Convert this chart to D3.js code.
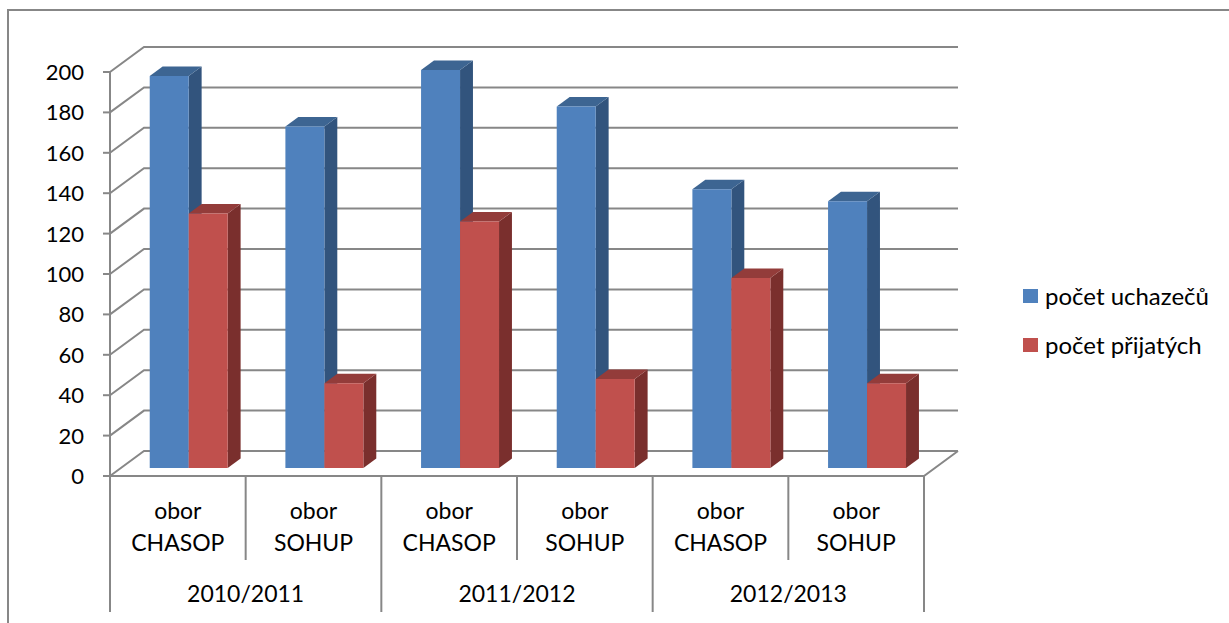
<!DOCTYPE html>
<html>
<head>
<meta charset="utf-8">
<script src="https://cdn.jsdelivr.net/npm/d3@7"></script>
<style>
  html, body { margin: 0; padding: 0; background: #fff; }
  svg { display: block; font-family: Lato, "Open Sans", sans-serif; }
</style>
</head>
<body>
<svg id="chart" width="1229" height="623"></svg>
<script>
// School years and study programmes (two-level category axis)
const years = ["2010/2011", "2011/2012", "2012/2013"];
const programmes = ["obor CHASOP", "obor SOHUP"];
// Values per category, in order: year × programme
const applicants = [194, 169, 197, 179, 138, 132];   // počet uchazečů
const admitted   = [126, 42, 122, 44, 94, 42];      // počet přijatých
const seriesNames = ["počet uchazečů", "počet přijatých"];
const yTicks = [0, 20, 40, 60, 80, 100, 120, 140, 160, 180, 200];

const categories = [];
years.forEach(y => programmes.forEach(p => categories.push(y + "|" + p)));
const series = [applicants, admitted];

const svg = d3.select("#chart");
const grid = "#878787";
const palette = [
  { front: "#4f81bd", side: "#32547d", top: "#3d6592" },
  { front: "#c0504d", side: "#7a2f2d", top: "#933c3a" }
];

// Oblique 3D frame: front plane and depth vector
const x0 = 110, x1 = 924;
const depthX = 34, depthY = -25;
const y = d3.scaleLinear().domain([0, 200]).range([476, 72]);
const x = d3.scaleBand().domain(categories).range([x0, x1]).padding(0);
const xs = d3.scaleBand().domain([0, 1]).range([0, x.bandwidth()]).paddingInner(0).paddingOuter(0.74);
const proj = (px, v, d) => [px + d * depthX, y(v) + d * depthY];

// Outer chart border (right and bottom sides run past the canvas)
svg.append("rect")
  .attr("x", 8).attr("y", 10).attr("width", 1240).attr("height", 640)
  .attr("fill", "none").attr("stroke", grid).attr("stroke-width", 2);

const line = d3.line();
const g = svg.append("g");

// Side-wall and back-wall gridlines
yTicks.forEach(t => {
  g.append("path").attr("d", line([proj(x0, t, 0), proj(x0, t, 1), proj(x1, t, 1)]))
    .attr("fill", "none").attr("stroke", grid).attr("stroke-width", 2);
  g.append("line")
    .attr("x1", x0 - 7).attr("x2", x0)
    .attr("y1", y(t)).attr("y2", y(t))
    .attr("stroke", grid).attr("stroke-width", 2);
});

// Floor edges
g.append("path").attr("d", line([proj(x0, 0, 0), proj(x1, 0, 0), proj(x1, 0, 1)]))
  .attr("fill", "none").attr("stroke", grid).attr("stroke-width", 2);
// Value axis line
g.append("line").attr("x1", x0).attr("x2", x0).attr("y1", y(200)).attr("y2", y(0))
  .attr("stroke", grid).attr("stroke-width", 2);

// Value axis labels
svg.append("g").selectAll("text").data(yTicks).join("text")
  .attr("x", 84).attr("y", d => y(d)).attr("dy", "0.36em")
  .attr("text-anchor", "end").attr("font-size", 22).attr("fill", "#000")
  .text(d => d);

// Bars: front face, top face and right side face
const dA = 0.32, dB = 0.70;
const bars = [];
categories.forEach((c, i) => {
  series.forEach((vals, s) => bars.push({ c, s, v: vals[i] }));
});
const barG = svg.append("g");
bars.forEach(b => {
  const left = x(b.c) + xs(b.s);
  const right = left + xs.bandwidth();
  const col = palette[b.s];
  const fl = proj(left, 0, dA), fr = proj(right, 0, dA);
  const tl = proj(left, b.v, dA), tr = proj(right, b.v, dA);
  const btl = proj(left, b.v, dB), btr = proj(right, b.v, dB);
  const bbr = proj(right, 0, dB);
  barG.append("path").attr("d", line([fr, tr, btr, bbr]) + "Z").attr("fill", col.side);
  barG.append("path").attr("d", line([tl, btl, btr, tr]) + "Z").attr("fill", col.top);
  barG.append("path").attr("d", line([fl, tl, tr, fr]) + "Z").attr("fill", col.front);
});

// Category axis: separators between programmes and between years
const sepG = svg.append("g");
categories.forEach((c, i) => {
  const isYearEdge = i % programmes.length === 0;
  sepG.append("line")
    .attr("x1", x(c)).attr("x2", x(c))
    .attr("y1", y(0)).attr("y2", isYearEdge ? 612 : 560)
    .attr("stroke", grid).attr("stroke-width", 2);
});
sepG.append("line").attr("x1", x1).attr("x2", x1).attr("y1", y(0)).attr("y2", 612)
  .attr("stroke", grid).attr("stroke-width", 2);

// Programme labels (two lines)
const labG = svg.append("g").attr("font-size", 23).attr("fill", "#000").attr("text-anchor", "middle");
categories.forEach(c => {
  const cx = x(c) + x.bandwidth() / 2;
  const words = c.split("|")[1].split(" ");
  labG.append("text").attr("x", cx).attr("y", 519).text(words[0]);
  labG.append("text").attr("x", cx).attr("y", 551).text(words[1]);
});
// Year labels
years.forEach((yr, k) => {
  const start = x(categories[k * programmes.length]);
  const end = start + x.bandwidth() * programmes.length;
  labG.append("text").attr("x", (start + end) / 2).attr("y", 602).text(yr);
});

// Legend
const leg = svg.append("g");
seriesNames.forEach((n, i) => {
  const ly = 289 + i * 49;
  leg.append("rect").attr("x", 1023).attr("y", ly).attr("width", 15).attr("height", 14)
    .attr("fill", palette[i].front);
  leg.append("text").attr("x", 1045).attr("y", ly + 7).attr("dy", "0.36em")
    .attr("font-size", 24).attr("fill", "#000").text(n);
});
</script>
</body>
</html>
